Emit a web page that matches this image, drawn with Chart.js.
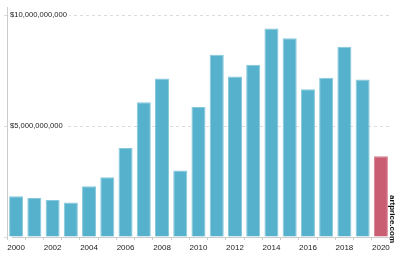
<!DOCTYPE html>
<html><head><meta charset="utf-8">
<script src="https://cdn.jsdelivr.net/npm/chart.js@4.4.0/dist/chart.umd.min.js"></script>
<style>html,body{margin:0;padding:0;background:#fff}#wrap{width:400px;height:255px}</style>
</head><body><div id="wrap"><canvas id="c" width="400" height="255"></canvas></div>
<script>
const years = ['2000','2001','2002','2003','2004','2005','2006','2007','2008','2009','2010','2011','2012','2013','2014','2015','2016','2017','2018','2019','2020'];
const turnover = [1.84e9,1.76e9,1.67e9,1.56e9,2.29e9,2.69e9,4.02e9,6.08e9,7.15e9,3.0e9,5.86e9,8.22e9,7.24e9,7.77e9,9.41e9,8.97e9,6.67e9,7.18e9,8.58e9,7.11e9,3.64e9];
const yTicks = [0, 5e9, 1e10];
const fills = years.map(y => y === '2020' ? '#c95d72' : '#56b1cc');
const borders = years.map(y => y === '2020' ? '#d98090' : '#86c8dc');

const credit = {
  id: 'credit',
  afterDraw(chart) {
    const ctx = chart.ctx;
    ctx.save();
    ctx.translate(392, 195);
    ctx.rotate(Math.PI / 2);
    ctx.font = 'bold 8px "Liberation Sans", Arial, sans-serif';
    ctx.fillStyle = '#111';
    ctx.textAlign = 'left';
    ctx.textBaseline = 'middle';
    ctx.fillText('artprice.com', 0, 0);
    ctx.restore();
  }
};

new Chart(document.getElementById('c'), {
  type: 'bar',
  data: { labels: years, datasets: [{ data: turnover, backgroundColor: fills, borderColor: borders, borderWidth: 1, barPercentage: 0.77, categoryPercentage: 1 }] },
  options: {
    responsive: false, animation: false, devicePixelRatio: 1,
    layout: { padding: { left: 0, right: 10, top: 2, bottom: 0 } },
    plugins: { legend: { display: false }, tooltip: { enabled: false } },
    scales: {
      x: {
        afterFit: s => { s.height = 18; },
        grid: { drawOnChartArea: false, tickLength: 3, color: '#ccc' },
        border: { color: '#ccc' },
        ticks: { autoSkip: false, maxRotation: 0, padding: 3, color: '#222', font: { family: '"Liberation Sans", Arial, sans-serif', size: 8 },
          callback: function(v, i) { return i % 2 === 0 ? years[i] : ''; } }
      },
      y: {
        min: 0, max: 10.35e9,
        afterFit: s => { s.width = 7; },
        afterBuildTicks: s => { s.ticks = yTicks.map(v => ({ value: v })); },
        grid: { color: '#ddd', tickLength: 3, drawTicks: true },
        border: { color: '#ccc', dash: [3, 3] },
        ticks: { mirror: true, padding: 3, color: '#222', showLabelBackdrop: true, backdropColor: '#fff', backdropPadding: 2,
          font: { family: '"Liberation Sans", Arial, sans-serif', size: 7.6 },
          callback: v => v === 0 ? '' : '$' + v.toLocaleString('en-US') }
      }
    }
  },
  plugins: [credit]
});
</script></body></html>
